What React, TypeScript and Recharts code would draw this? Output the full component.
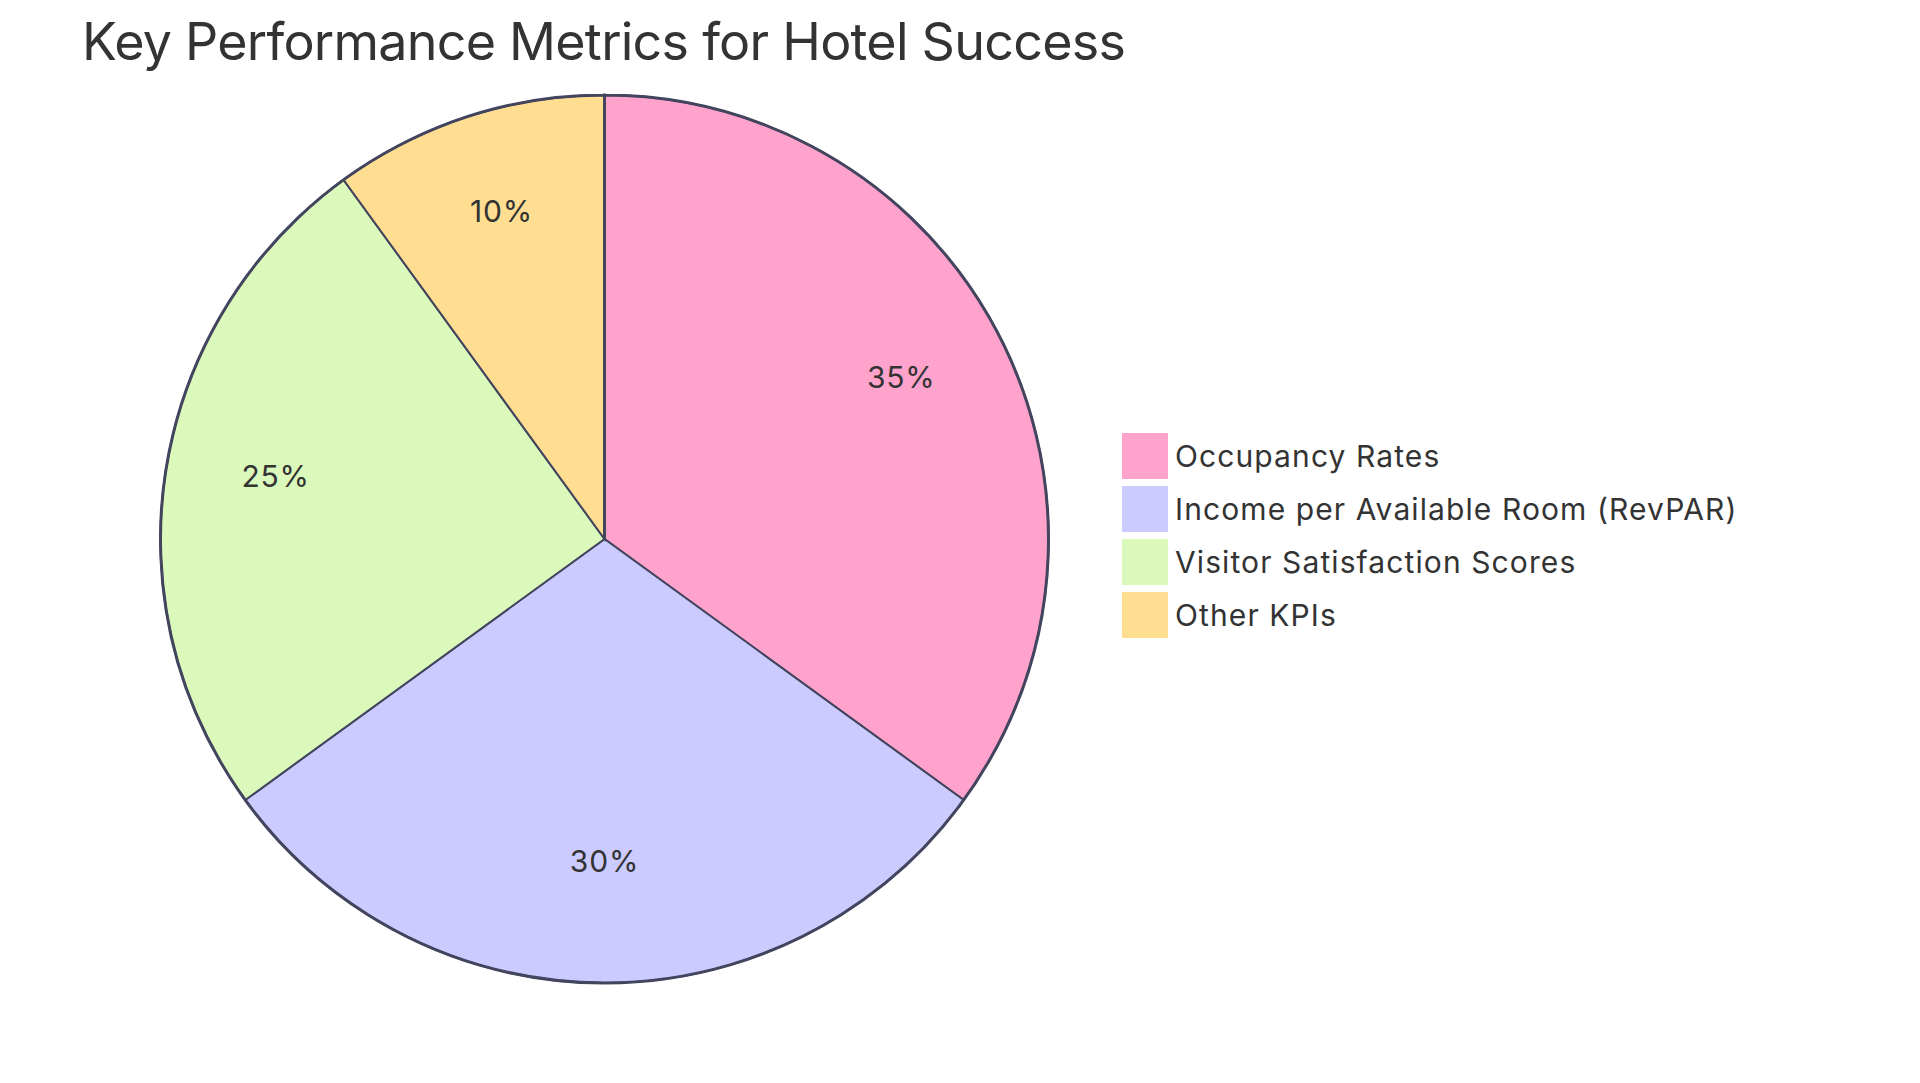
import React from 'react';
import { Cell, Legend, Pie, PieChart } from 'recharts';

const categories = ['Occupancy Rates', 'Income per Available Room (RevPAR)', 'Visitor Satisfaction Scores', 'Other KPIs'];
const shares = [35, 30, 25, 10];
const sliceColors = ['#FFA3CC', '#CBCBFF', '#DBF9BB', '#FFDE91'];
const outline = [{ name: 'outline', value: 1 }];

const FONT = 'Inter, "Noto Sans", sans-serif';
const TEXT = '#333333';
const STROKE = '#43455F';
const RADIAN = Math.PI / 180;

const data = categories.map((name, i) => ({ name, value: shares[i] }));

const renderLabel = ({ cx, cy, midAngle, outerRadius, value }: any) => {
  const r = outerRadius * 0.75;
  const x = cx + r * Math.cos(-midAngle * RADIAN);
  const y = cy + r * Math.sin(-midAngle * RADIAN);
  return (
    <text x={x} y={y} textAnchor="middle" fill={TEXT} fontSize={30} fontFamily={FONT} letterSpacing={0.8}>
      {`${value}%`}
    </text>
  );
};

const renderLegend = () => (
  <div style={{ fontFamily: FONT }}>
    {categories.map((name, i) => (
      <div key={name} style={{ display: 'flex', alignItems: 'center', height: 53 }}>
        <div style={{ width: 46, height: 46, background: sliceColors[i], marginRight: 7 }} />
        <span style={{ fontSize: 30, color: TEXT, whiteSpace: 'nowrap', letterSpacing: 1.1 }}>{name}</span>
      </div>
    ))}
  </div>
);

export default function App() {
  return (
    <div style={{ position: 'absolute', left: 0, top: 0, width: 1920, height: 1083, background: '#fff' }}>
      <div
        style={{
          position: 'absolute',
          left: 82,
          top: 16,
          fontFamily: FONT,
          fontSize: 52,
          lineHeight: '52px',
          letterSpacing: -0.75,
          color: TEXT,
          whiteSpace: 'nowrap',
        }}
      >
        Key Performance Metrics for Hotel Success
      </div>
      <PieChart width={1920} height={1083} margin={{ top: 0, right: 0, bottom: 0, left: 0 }}>
        <Pie
          data={data}
          dataKey="value"
          nameKey="name"
          cx={604.5}
          cy={539}
          outerRadius={444}
          startAngle={90}
          endAngle={-270}
          stroke={STROKE}
          strokeWidth={2}
          label={renderLabel}
          labelLine={false}
          isAnimationActive={false}
        >
          {data.map((d, i) => (
            <Cell key={d.name} fill={sliceColors[i]} stroke={STROKE} strokeWidth={2} />
          ))}
        </Pie>
        <Pie
          data={outline}
          dataKey="value"
          cx={604.5}
          cy={539}
          outerRadius={444}
          startAngle={90}
          endAngle={-270}
          fill="none"
          stroke={STROKE}
          strokeWidth={3}
          legendType="none"
          isAnimationActive={false}
        />
        <Legend
          layout="vertical"
          content={renderLegend}
          wrapperStyle={{ left: 1122, top: 429.5, width: 'auto' }}
        />
      </PieChart>
    </div>
  );
}
